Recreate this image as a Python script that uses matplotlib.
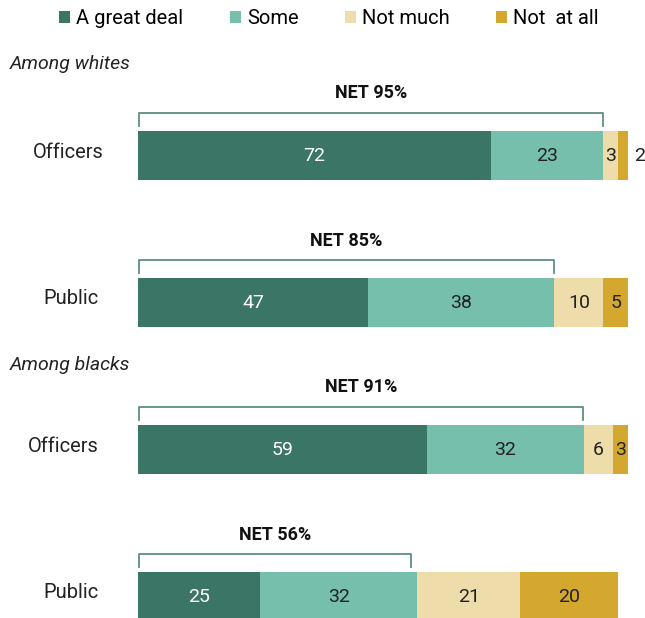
import matplotlib.pyplot as plt
from matplotlib.patches import Patch

plt.rcParams['font.family'] = ['Roboto', 'DejaVu Sans']

categories = ['A great deal', 'Some', 'Not much', 'Not  at all']
colors = ['#3a7565', '#76bfad', '#eedcab', '#d4a72e']
rows = ['Officers', 'Public', 'Officers', 'Public']
great_deal = [72, 47, 59, 25]
some = [23, 38, 32, 32]
not_much = [3, 10, 6, 21]
not_at_all = [2, 5, 3, 20]
net = [95, 85, 91, 56]
groups = ['Among whites', 'Among blacks']

series = [great_deal, some, not_much, not_at_all]
text_colors = ['white', '#222222', '#222222', '#222222']

fig = plt.figure(figsize=(6.45, 6.18), dpi=100)
ax = fig.add_axes([0, 0, 1, 1])
px = 4.9
ax.set_xlim(-138 / px, (645 - 138) / px)
ax.set_ylim(618, 0)
ax.axis('off')

y_centers = [155, 302, 449, 596]
bar_h = 49
label_x = [-14.2, -13.6, -15.3, -13.6]

for i, row in enumerate(rows):
    left = 0
    for j, vals in enumerate(series):
        v = vals[i]
        ax.barh(y_centers[i], v, left=left, height=bar_h, color=colors[j], edgecolor='none')
        cx = left + v / 2
        if i == 0 and j == 3:
            cx = left + v + 2.3
        ax.text(cx, y_centers[i] + 1, str(v), ha='center', va='center',
                fontsize=14, color=text_colors[j])
        left += v
    # bracket over the NET part
    top = y_centers[i] - bar_h / 2 - 18
    ax.plot([0.2, 0.2, net[i] - 0.2, net[i] - 0.2],
            [top + 13, top, top, top + 13], color='#5d8f82', lw=1.3,
            solid_joinstyle='round')
    ax.text(net[i] / 2, top - 19, 'NET %d%%' % net[i], ha='center', va='center',
            fontsize=13, fontweight='bold', color='#111111')
    ax.text(label_x[i], y_centers[i] - 3, row, ha='center', va='center',
            fontsize=14.5, color='#222222')

ax.text(-128 / px, 64, groups[0], ha='left', va='center', fontsize=14,
        style='italic', color='#222222')
ax.text(-128 / px, 365, groups[1], ha='left', va='center', fontsize=14,
        style='italic', color='#222222')

handles = [Patch(facecolor=c, edgecolor='none') for c in colors]
ax.legend(handles, categories, loc='upper center', bbox_to_anchor=(0.51, 1.015),
          ncol=4, frameon=False, fontsize=14.5, handlelength=0.55, handleheight=0.55,
          handletextpad=0.3, columnspacing=2.3)

fig.savefig('out.png', dpi=100)
